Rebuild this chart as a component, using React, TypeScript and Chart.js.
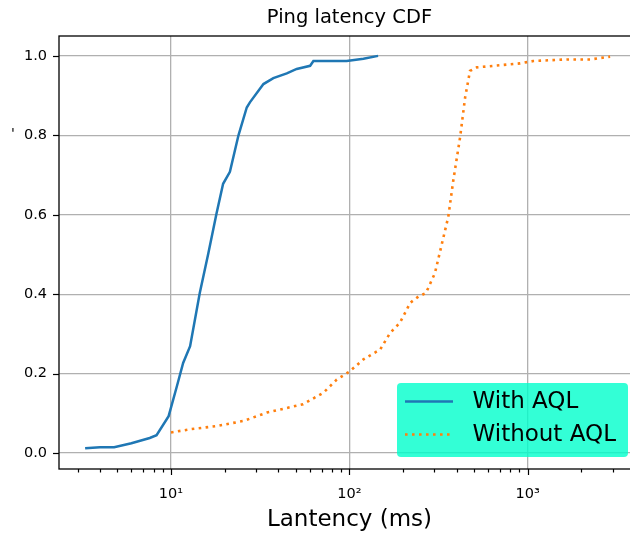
import React, { useEffect, useRef } from 'react';
import { Chart, registerables } from 'chart.js';

Chart.register(...registerables);

// ---- texts ----
const chartTitle = 'Ping latency CDF';
const xAxisLabel = 'Lantency (ms)';
const yAxisLabel = "'";
const seriesNames = ['With AQL', 'Without AQL'];

// ---- data ----
const withAqlLatencyMs = [3.3, 4.0, 4.8, 6.0, 7.6, 8.3, 9.7, 10.8, 11.7, 12.8, 14.5, 16.2, 18.0, 19.6, 21.4, 23.9, 26.6, 27.7, 33.0, 37.5, 44.6, 50.7, 60.3, 62.9, 96.6, 120, 145];
const withAqlCdf = [0.012, 0.015, 0.015, 0.025, 0.038, 0.045, 0.093, 0.169, 0.227, 0.269, 0.403, 0.503, 0.603, 0.678, 0.708, 0.8, 0.87, 0.883, 0.929, 0.944, 0.956, 0.967, 0.975, 0.987, 0.987, 0.993, 1.0];

const withoutAqlLatencyMs = [10, 12.8, 18, 25.5, 34.5, 55, 71.5, 85, 100, 120, 149, 169, 192, 210, 219, 244, 269, 302, 359, 383, 418, 446, 475, 518, 906, 1076, 1655, 2240, 2900];
const withoutAqlCdf = [0.052, 0.06, 0.068, 0.081, 0.102, 0.123, 0.152, 0.185, 0.205, 0.236, 0.261, 0.302, 0.328, 0.361, 0.378, 0.394, 0.403, 0.453, 0.595, 0.687, 0.795, 0.895, 0.962, 0.971, 0.981, 0.987, 0.991, 0.991, 0.998];

// ---- ticks ----
const yTickValues = [0, 0.2, 0.4, 0.6, 0.8, 1.0];
const xMajorTickValues = [10, 100, 1000];
const xMajorTickLabels = ['10¹', '10²', '10³'];

// ---- scale limits ----
const X_MIN = 2.355;
const X_MAX = 4266;
const Y_MIN = -0.04;
const Y_MAX = 1.05;

const FONT = "'DejaVu Sans', 'Noto Sans', sans-serif";
const GRID = '#b0b0b0';
const BLUE = '#1f77b4';
const ORANGE = '#ff7f0e';

function buildXTicks(): number[] {
  const out: number[] = [];
  for (const dec of [1, 10, 100, 1000]) {
    for (let m = 1; m <= 9; m++) {
      const v = m * dec;
      if (v >= X_MIN && v <= X_MAX) out.push(v);
    }
  }
  return out;
}
const xAllTicks = buildXTicks();

const decorPlugin = {
  id: 'decor',
  afterDatasetsDraw(chart: any) {
    const { ctx, chartArea: a, scales } = chart;
    const xs = scales.x;
    const ys = scales.y;
    ctx.save();
    // spines
    ctx.strokeStyle = '#000';
    ctx.lineWidth = 1.3;
    ctx.strokeRect(a.left, a.top, a.right - a.left, a.bottom - a.top);
    // x tick marks
    ctx.lineWidth = 1.2;
    xs.ticks.forEach((t: any) => {
      const px = Math.round(xs.getPixelForValue(t.value)) + 0.5;
      const major = xMajorTickValues.includes(t.value);
      ctx.beginPath();
      ctx.moveTo(px, a.bottom);
      ctx.lineTo(px, a.bottom + (major ? 6 : 3.5));
      ctx.stroke();
    });
    // y tick marks
    ys.ticks.forEach((t: any) => {
      const py = Math.round(ys.getPixelForValue(t.value)) + 0.5;
      ctx.beginPath();
      ctx.moveTo(a.left, py);
      ctx.lineTo(a.left - 6, py);
      ctx.stroke();
    });
    // title
    ctx.fillStyle = '#000';
    ctx.font = `19.5px ${FONT}`;
    ctx.textAlign = 'center';
    ctx.textBaseline = 'middle';
    ctx.fillText(chartTitle, (a.left + a.right) / 2, 18);
    // tiny y label
    ctx.font = `14px ${FONT}`;
    ctx.fillText(yAxisLabel, 13, 134);

    // legend
    const bw = 231;
    const bh = 74;
    const bx = a.right - 12 - bw;
    const by = a.bottom - 12 - bh;
    ctx.fillStyle = 'rgba(0,255,204,0.8)';
    ctx.beginPath();
    const r = 4;
    ctx.moveTo(bx + r, by);
    ctx.lineTo(bx + bw - r, by);
    ctx.quadraticCurveTo(bx + bw, by, bx + bw, by + r);
    ctx.lineTo(bx + bw, by + bh - r);
    ctx.quadraticCurveTo(bx + bw, by + bh, bx + bw - r, by + bh);
    ctx.lineTo(bx + r, by + bh);
    ctx.quadraticCurveTo(bx, by + bh, bx, by + bh - r);
    ctx.lineTo(bx, by + r);
    ctx.quadraticCurveTo(bx, by, bx + r, by);
    ctx.closePath();
    ctx.fill();

    const rows = [by + 18.5, by + 51.5];
    chart.data.datasets.forEach((ds: any, i: number) => {
      const y = rows[i];
      ctx.save();
      ctx.strokeStyle = ds.borderColor;
      ctx.lineWidth = ds.borderWidth;
      ctx.setLineDash(ds.borderDash || []);
      ctx.beginPath();
      ctx.moveTo(bx + 8, y);
      ctx.lineTo(bx + 56, y);
      ctx.stroke();
      ctx.restore();
      ctx.fillStyle = '#000';
      ctx.font = `23px ${FONT}`;
      ctx.textAlign = 'left';
      ctx.textBaseline = 'middle';
      ctx.fillText(ds.label, bx + 75.5, y + 1);
    });
    ctx.restore();
  },
};

export default function App() {
  const canvasRef = useRef<HTMLCanvasElement | null>(null);

  useEffect(() => {
    if (!canvasRef.current) return;
    Chart.defaults.font.family = FONT;
    const chart = new Chart(canvasRef.current, {
      type: 'line',
      data: {
        datasets: [
          {
            label: seriesNames[0],
            data: withAqlLatencyMs.map((x, i) => ({ x, y: withAqlCdf[i] })),
            borderColor: BLUE,
            backgroundColor: BLUE,
            borderWidth: 2.5,
            pointRadius: 0,
            tension: 0,
            fill: false,
          },
          {
            label: seriesNames[1],
            data: withoutAqlLatencyMs.map((x, i) => ({ x, y: withoutAqlCdf[i] })),
            borderColor: ORANGE,
            backgroundColor: ORANGE,
            borderWidth: 2.6,
            borderDash: [2.6, 4.4],
            pointRadius: 0,
            tension: 0,
            fill: false,
          },
        ],
      },
      options: {
        responsive: false,
        animation: false,
        devicePixelRatio: 1,
        parsing: false as any,
        layout: { padding: { left: 0, top: 36, right: 4, bottom: 0 } },
        plugins: {
          legend: { display: false },
          title: { display: false },
          tooltip: { enabled: false },
        },
        scales: {
          x: {
            type: 'logarithmic',
            min: X_MIN,
            max: X_MAX,
            afterBuildTicks: (s: any) => {
              s.ticks = xAllTicks.map((v) => ({ value: v }));
            },
            afterFit: (s: any) => {
              s.height = 65;
              s.paddingLeft = 0;
              s.paddingRight = 0;
            },
            grid: {
              drawTicks: false,
              lineWidth: 1.3,
              color: (c: any) =>
                c.tick && xMajorTickValues.includes(c.tick.value) ? GRID : 'rgba(0,0,0,0)',
            },
            border: { display: false },
            ticks: {
              autoSkip: false,
              maxRotation: 0,
              minRotation: 0,
              padding: 17,
              color: '#000',
              font: { size: 14.5, family: FONT },
              callback: (value: any) => {
                const i = xMajorTickValues.indexOf(Number(value));
                return i >= 0 ? xMajorTickLabels[i] : '';
              },
            },
            title: {
              display: true,
              text: xAxisLabel,
              color: '#000',
              font: { size: 23, family: FONT },
              padding: { top: 0, bottom: 0 },
            },
          },
          y: {
            type: 'linear',
            min: Y_MIN,
            max: Y_MAX,
            afterBuildTicks: (s: any) => {
              s.ticks = yTickValues.map((v) => ({ value: v }));
            },
            afterFit: (s: any) => {
              s.width = 59;
              s.paddingTop = 0;
              s.paddingBottom = 0;
            },
            grid: { drawTicks: false, color: GRID, lineWidth: 1.3 },
            border: { display: false },
            ticks: {
              padding: 12,
              color: '#000',
              font: { size: 14.5, family: FONT },
              callback: (value: any) => Number(value).toFixed(1),
            },
          },
        },
      },
      plugins: [decorPlugin],
    } as any);
    return () => chart.destroy();
  }, []);

  return (
    <div
      style={{
        position: 'absolute',
        left: 0,
        top: 0,
        width: 630,
        height: 534,
        overflow: 'hidden',
        background: '#fff',
      }}
    >
      <canvas ref={canvasRef} width={644} height={534} style={{ display: 'block' }} />
    </div>
  );
}
